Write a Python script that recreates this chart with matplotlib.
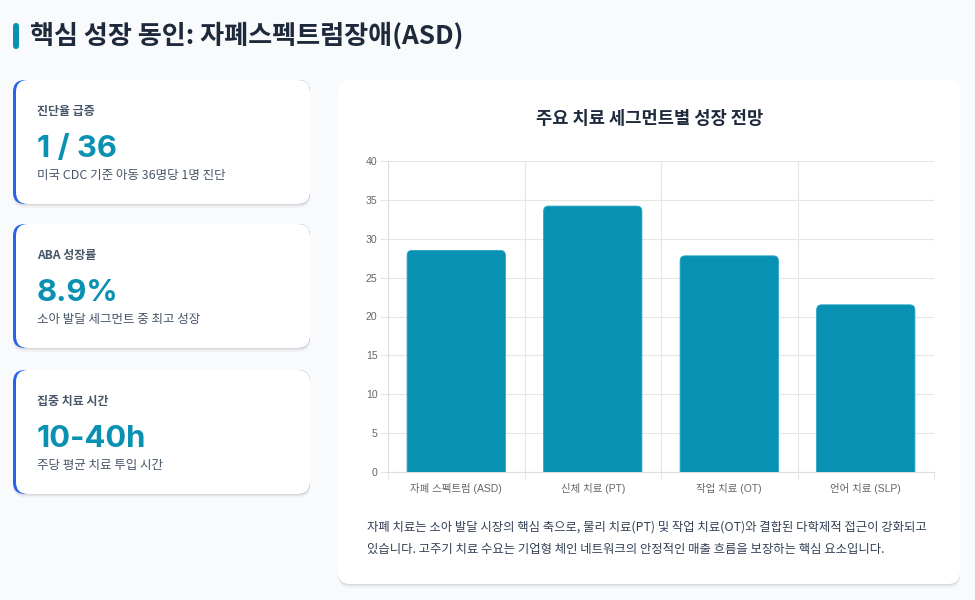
import matplotlib
matplotlib.use("Agg")
import matplotlib.pyplot as plt
from matplotlib.patches import FancyBboxPatch

plt.rcParams['font.family'] = ['Noto Sans CJK KR', 'DejaVu Sans']

# 데이터
categories = ['자폐 스펙트럼 (ASD)', '신체 치료 (PT)', '작업 치료 (OT)', '언어 치료 (SLP)']
growth = [28.5, 34.2, 27.8, 21.5]
y_ticks = [0, 5, 10, 15, 20, 25, 30, 35, 40]

card_labels = ['진단율 급증', 'ABA 성장률', '집중 치료 시간']
card_values = ['1 / 36', '8.9%', '10-40h']
card_notes = ['미국 CDC 기준 아동 36명당 1명 진단', '소아 발달 세그먼트 중 최고 성장', '주당 평균 치료 투입 시간']

page_title = '핵심 성장 동인: 자폐스펙트럼장애(ASD)'
chart_title = '주요 치료 세그먼트별 성장 전망'
note_lines = ['자폐 치료는 소아 발달 시장의 핵심 축으로, 물리 치료(PT) 및 작업 치료(OT)와 결합된 다학제적 접근이 강화되고',
              '있습니다. 고주기 치료 수요는 기업형 체인 네트워크의 안정적인 매출 흐름을 보장하는 핵심 요소입니다.']

# 색상
BG = '#f8fafc'
TEAL = '#0891b2'
BLUE = '#2563eb'
DARK = '#1e293b'
GRAY = '#475569'
GRID = '#e6e6e6'

W, H = 975, 600
fig = plt.figure(figsize=(W / 100, H / 100), dpi=100, facecolor=BG)

# 배경용 축 (픽셀 좌표)
bg = fig.add_axes([0, 0, 1, 1], zorder=0)
bg.set_xlim(0, W)
bg.set_ylim(H, 0)
bg.axis('off')


def card(x, y, w, h, r=12, left_border=False):
    # 그림자
    for off, a in [(4, 0.035), (2, 0.05), (1, 0.05)]:
        bg.add_patch(FancyBboxPatch((x, y + off), w, h, boxstyle=f"round,pad=0,rounding_size={r}",
                                    fc='black', ec='none', alpha=a))
    if left_border:
        bg.add_patch(FancyBboxPatch((x, y), w, h, boxstyle=f"round,pad=0,rounding_size={r}",
                                    fc=BLUE, ec='none'))
        bg.add_patch(FancyBboxPatch((x + 3, y), w - 3, h, boxstyle=f"round,pad=0,rounding_size={r}",
                                    fc='white', ec='none'))
    else:
        bg.add_patch(FancyBboxPatch((x, y), w, h, boxstyle=f"round,pad=0,rounding_size={r}",
                                    fc='white', ec='none'))


# 제목
bg.add_patch(FancyBboxPatch((13, 23), 6, 26, boxstyle="round,pad=0,rounding_size=3", fc=TEAL, ec='none'))
bg.text(30, 36, page_title, fontsize=18.8, fontweight='bold', color=DARK, va='center', ha='left')

# 왼쪽 카드
card_tops = [80, 224, 370]
for top, lab, val, note in zip(card_tops, card_labels, card_values, card_notes):
    card(13, top, 297, 124, left_border=True)
    bg.text(37, top + 31, lab, fontsize=8.6, fontweight='bold', color=GRAY, va='center')
    bg.text(37, top + 77, val, fontsize=22.3, fontweight='bold', color=TEAL, va='baseline',
            family=['Inter', 'DejaVu Sans'])
    bg.text(37, top + 95, note, fontsize=9.0, color=GRAY, va='center')

# 차트 카드
card(338, 80, 622, 504)
bg.text(650, 119, chart_title, fontsize=12.7, fontweight='bold', color=DARK, ha='center', va='center')
for i, line in enumerate(note_lines):
    bg.text(367, 527 + i * 22, line, fontsize=8.9, color='#334155', va='center')

# 막대 차트
ax = fig.add_axes([388 / W, (H - 472) / H, 546 / W, 311 / H], zorder=1)
ax.set_facecolor('none')
xs = list(range(len(categories)))
bars = ax.bar(xs, growth, width=0.72, color=TEAL)
ax.set_xlim(-0.5, len(categories) - 0.5)
ax.set_ylim(0, 40)

# 둥근 모서리
x_per_px = len(categories) / 546
y_per_px = 40 / 311
for b in bars:
    b.set_visible(False)
    x0, w, h = b.get_x(), b.get_width(), b.get_height()
    ax.add_patch(FancyBboxPatch((x0, -2), w, h + 2,
                                boxstyle=f"round,pad=0,rounding_size={5 * x_per_px}",
                                mutation_aspect=y_per_px / x_per_px,
                                fc=TEAL, ec='#22a6c4', lw=0.6, zorder=3))

ax.set_yticks(y_ticks)
ax.set_xticks(xs)
ax.set_xticklabels(categories, family=['Liberation Sans', 'Noto Sans CJK KR'])
ax.set_xticks([x - 0.5 for x in xs] + [len(categories) - 0.5], minor=True)
ax.grid(axis='y', color=GRID, lw=0.8)
ax.grid(axis='x', which='minor', color=GRID, lw=0.8)
ax.set_axisbelow(True)
ax.tick_params(axis='x', which='major', length=0, pad=8, labelsize=7.5, labelcolor='#666666')
ax.tick_params(axis='x', which='minor', length=6, color=GRID, width=0.8)
ax.tick_params(axis='y', length=6, color=GRID, width=0.8, pad=1.5, labelsize=7.6, labelcolor='#666666')
for lab in ax.get_yticklabels():
    lab.set_family(['Liberation Sans'])
for s in ['top', 'right']:
    ax.spines[s].set_visible(False)
for s in ['left', 'bottom']:
    ax.spines[s].set_color('#dddddd')
    ax.spines[s].set_linewidth(0.8)

fig.savefig('out.png', dpi=100, facecolor=BG)
